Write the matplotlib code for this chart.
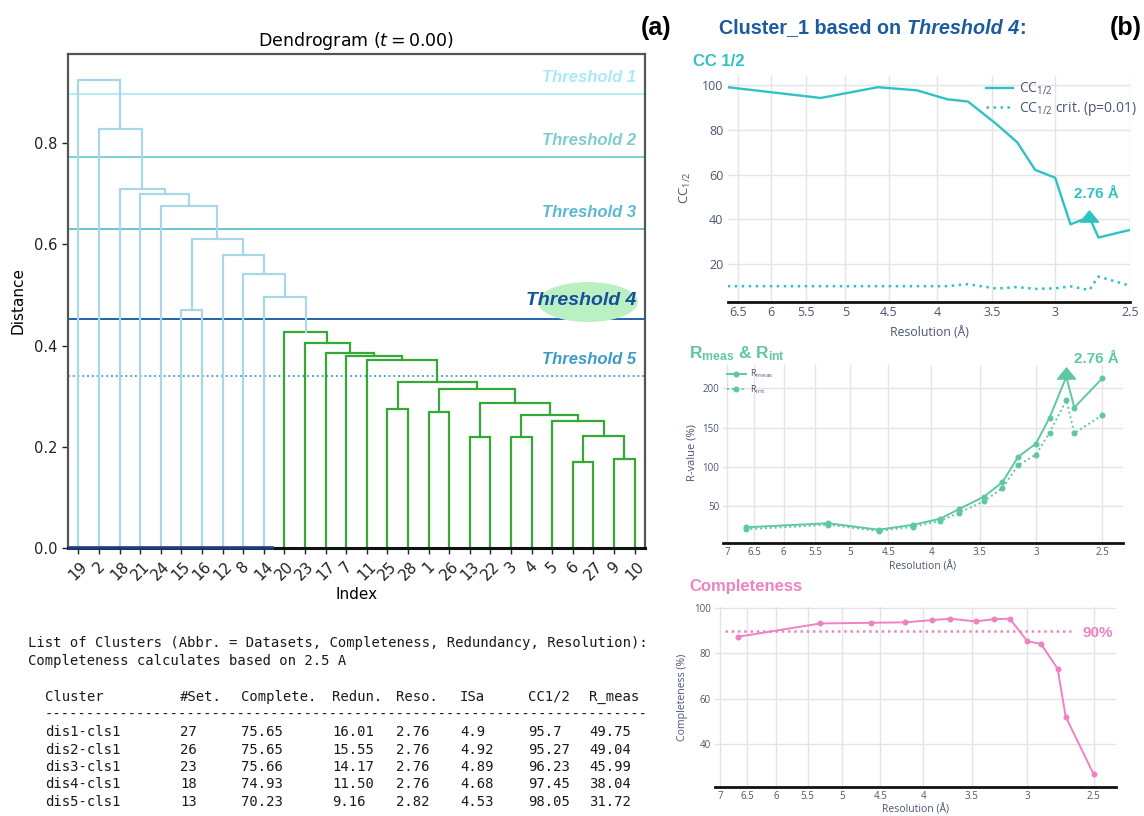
import matplotlib
matplotlib.use('Agg')
import matplotlib.pyplot as plt
from matplotlib.patches import Ellipse
from matplotlib.path import Path
from matplotlib.ticker import NullLocator

plt.rcParams['mathtext.default'] = 'regular'
plt.rcParams['font.family'] = ['DejaVu Sans']

# ---------------- data: dendrogram ----------------
leaf_labels = [19, 2, 18, 21, 24, 15, 16, 12, 8, 14, 20, 23, 17, 7, 11,
               25, 28, 1, 26, 13, 22, 3, 4, 5, 6, 27, 9, 10]
# nodes 0..27 are leaves (display order); node 28+k is merge k
merge_a = [24, 26, 19, 21, 28, 23, 31, 17, 15, 30, 35, 36, 14, 13, 12, 11, 10,
           5, 9, 8, 7, 45, 4, 3, 2, 1, 0]
merge_b = [25, 27, 20, 22, 29, 32, 33, 18, 16, 34, 37, 38, 39, 40, 41, 42, 43,
           6, 44, 46, 47, 48, 49, 50, 51, 52, 53]
merge_height = [0.169, 0.175, 0.219, 0.219, 0.221, 0.251, 0.263, 0.268, 0.274,
                0.287, 0.314, 0.327, 0.372, 0.379, 0.385, 0.406, 0.427,
                0.470, 0.495, 0.541, 0.579, 0.611, 0.675, 0.699, 0.709,
                0.828, 0.925]
threshold_names = ['Threshold 1', 'Threshold 2', 'Threshold 3', 'Threshold 4', 'Threshold 5']
threshold_values = [0.896, 0.773, 0.630, 0.453, 0.339]

# ---------------- data: cluster table ----------------
table_header = ['Cluster', '#Set.', 'Complete.', 'Redun.', 'Reso.', 'ISa', 'CC1/2', 'R_meas']
cluster_names = ['dis1-cls1', 'dis2-cls1', 'dis3-cls1', 'dis4-cls1', 'dis5-cls1']
n_sets = ['27', '26', '23', '18', '13']
tab_completeness = ['75.65', '75.65', '75.66', '74.93', '70.23']
tab_redundancy = ['16.01', '15.55', '14.17', '11.50', '9.16']
tab_resolution = ['2.76', '2.76', '2.76', '2.76', '2.82']
tab_isa = ['4.9', '4.92', '4.89', '4.68', '4.53']
tab_cc_half = ['95.7', '95.27', '96.23', '97.45', '98.05']
tab_r_meas = ['49.75', '49.04', '45.99', '38.04', '31.72']

# ---------------- data: resolution shells ----------------
resolution = [6.66, 5.31, 4.62, 4.20, 3.90, 3.71, 3.46, 3.29, 3.15, 3.00, 2.89, 2.76, 2.70, 2.50]
cc_half = [99.0, 94.2, 99.0, 97.6, 93.6, 92.6, 82.5, 74.4, 62.1, 58.6, 37.8, 41.1, 31.9, 35.3]
cc_crit = [10.2, 10.2, 10.2, 10.2, 10.2, 11.1, 9.1, 9.8, 9.0, 9.2, 10.1, 8.5, 14.5, 10.4]
r_meas = [22.3, 27.5, 19.2, 25.6, 33.3, 45.4, 61.5, 80.0, 112.4, 129.5, 162.4, 215.0, 175.6, 213.0]
r_int = [19.7, 25.6, 17.6, 23.0, 30.4, 40.6, 55.6, 72.3, 101.8, 115.4, 143.6, 184.7, 142.8, 165.8]
completeness = [87.4, 93.3, 93.6, 93.8, 94.8, 95.4, 94.2, 95.2, 95.4, 85.4, 84.2, 73.2, 52.0, 26.5]
cutoff_res = 2.76
cc_marker_value = 41.5
r_marker_value = 220.0
target_completeness = 90
target_line_res = [6.9, 2.66]

# ---------------- figure ----------------
W, H = 1144, 816
fig = plt.figure(figsize=(W / 100, H / 100), dpi=100)


def rect(l, t, r, b):
    return [l / W, 1 - b / H, (r - l) / W, (b - t) / H]


def ftext(x, y, s, **kw):
    return fig.text(x / W, 1 - y / H, s, **kw)


BLUE = '#a9d7e6'
GREEN = '#35a935'
line_colors = ['#b4eef6', '#7dcfcf', '#68c5ca', '#2262ae', '#3b9cc6']
text_colors = ['#a9e9f6', '#7fcdcd', '#5cb9d2', '#15509b', '#3a9cc6']
line_styles = ['-', '-', '-', '-', ':']

# ---------------- dendrogram ----------------
ax = fig.add_axes(rect(68, 54, 645, 548))
n = len(leaf_labels)
node_x = [5 + 10 * i for i in range(n)]
node_h = [0.0] * n
for a, b, h in zip(merge_a, merge_b, merge_height):
    col = GREEN if h < threshold_values[3] else BLUE
    xa, xb = node_x[a], node_x[b]
    ax.plot([xa, xa, xb, xb], [node_h[a], h, h, node_h[b]], color=col, lw=1.6,
            solid_joinstyle='miter', zorder=2)
    node_x.append((xa + xb) / 2)
    node_h.append(h)

ax.set_xlim(0, 10 * n)
ax.set_ylim(0, 0.976)
for i, (name, v) in enumerate(zip(threshold_names, threshold_values)):
    ax.axhline(v, color=line_colors[i], lw=1.4 if i != 4 else 1.3,
               ls=line_styles[i], zorder=1)
    big = (i == 3)
    ax.annotate(name, xy=(275.8, v), xytext=(0, 13 if big else 12),
                textcoords='offset points', ha='right', va='center',
                color=text_colors[i], fontsize=14 if big else 12,
                fontweight='bold', fontstyle='italic',
                family='Liberation Sans', zorder=4)
ax.add_patch(Ellipse((252.3, 0.486), 48.5, 0.079, color='#baf0c2', zorder=3, lw=0))
ax.plot([0, (node_x[9] + node_x[10]) / 2], [0, 0], color='#1d3c78', lw=2.6,
        zorder=5, clip_on=False, solid_capstyle='butt')

ax.set_xticks([5 + 10 * i for i in range(n)])
ax.set_xticklabels([str(l) for l in leaf_labels], rotation=45, fontsize=11)
ax.set_yticks([0.0, 0.2, 0.4, 0.6, 0.8])
ax.set_yticklabels(['0.0', '0.2', '0.4', '0.6', '0.8'], fontsize=10.5)
ax.tick_params(length=4, width=1, colors='#222222')
ax.set_title('Dendrogram ($\\mathit{t} = 0.00$)', fontsize=12.5, pad=6)
ax.set_xlabel('Index', fontsize=11, labelpad=3)
ax.set_ylabel('Distance', fontsize=11, labelpad=6)
for s in ['top', 'left', 'right']:
    ax.spines[s].set_color('#555555')
    ax.spines[s].set_linewidth(1.6)
ax.spines['bottom'].set_color('#111111')
ax.spines['bottom'].set_linewidth(2.2)

ftext(656, 28, '(a)', fontsize=18, fontweight='bold', family='Liberation Sans',
      ha='center', va='center')
ftext(1126, 28, '(b)', fontsize=18, fontweight='bold', family='Liberation Sans',
      ha='center', va='center')

# ---------------- table ----------------
mono = dict(family='DejaVu Sans Mono', fontsize=10, va='center', color='#1a1a1a')
ftext(28, 643, 'List of Clusters (Abbr. = Datasets, Completeness, Redundancy, Resolution):', **mono)
ftext(28, 661, 'Completeness calculates based on 2.5 A', **mono)
col_x = [45, 180, 241, 332, 396, 460, 528, 589]
for x, h in zip(col_x, table_header):
    ftext(x, 697, h, **mono)
ftext(45, 715, '-' * 72, **mono)
columns = [cluster_names, n_sets, tab_completeness, tab_redundancy,
           tab_resolution, tab_isa, tab_cc_half, tab_r_meas]
for r in range(len(cluster_names)):
    y = 732 + 17.5 * r
    for x, col in zip(col_x, columns):
        ftext(x, y, col[r], **mono)

# ---------------- right panel helpers ----------------
TICKC = '#4a5670'
tri = Path([(0, 0.62), (-1, -0.62), (1, -0.62), (0, 0.62)],
           [Path.MOVETO, Path.LINETO, Path.LINETO, Path.CLOSEPOLY])


def plotly_axes(r, xlim, ylim, xticks, yticks, fs, pad):
    a = fig.add_axes(r)
    a.set_xscale('log')
    a.set_xlim(*xlim)
    a.set_ylim(*ylim)
    a.set_xticks(xticks)
    a.set_xticklabels([f'{t:g}' for t in xticks])
    a.xaxis.set_minor_locator(NullLocator())
    a.set_yticks(yticks)
    a.set_yticklabels([f'{t:g}' for t in yticks])
    a.grid(True, color='#e4e4e4', lw=1)
    a.set_axisbelow(True)
    for s in ['top', 'right', 'left']:
        a.spines[s].set_visible(False)
    a.spines['bottom'].set_color('#111111')
    a.spines['bottom'].set_linewidth(2)
    a.tick_params(length=0, labelsize=fs, colors=TICKC, pad=pad)
    for lab in a.get_xticklabels() + a.get_yticklabels():
        lab.set_family('Open Sans')
    return a


title_font = dict(family='Liberation Sans', fontweight='bold')

# title of (b)
r_ = fig.canvas.get_renderer()
tA = ftext(719, 28, 'Cluster_1 based on ', color='#1c5b9f', fontsize=14.2, va='center', **title_font)
bb = tA.get_window_extent(renderer=r_)
tB = fig.text(bb.x1 / W, 1 - 28 / H, 'Threshold 4', color='#1c5b9f', fontsize=14.2,
              va='center', fontstyle='italic', **title_font)
bb = tB.get_window_extent(renderer=r_)
fig.text(bb.x1 / W, 1 - 28 / H, ':', color='#1c5b9f', fontsize=14.2, va='center', **title_font)

# ---------------- CC1/2 ----------------
CC = '#2fc2c2'
a1 = plotly_axes(rect(727.7, 76, 1130, 302.3), (6.66, 2.5), (3.0, 104),
                 [6.5, 6, 5.5, 5, 4.5, 4, 3.5, 3, 2.5], [20, 40, 60, 80, 100], 9, 3)
a1.plot(resolution, cc_half, color=CC, lw=1.7, label='CC$_{1/2}$')
a1.plot(resolution, cc_crit, color=CC, lw=1.8, ls=(0, (1, 1.8)),
        label='CC$_{1/2}$ crit. (p=0.01)')
a1.plot([cutoff_res], [cc_marker_value], marker=tri, ms=13, color=CC, ls='none')
leg = a1.legend(loc='upper left', bbox_to_anchor=(0.642, 0.98), frameon=False,
                borderpad=0, borderaxespad=0, handlelength=1.95, handletextpad=0.45,
                labelspacing=0.2, prop={'family': 'Open Sans', 'size': 10})
for t in leg.get_texts():
    t.set_color(TICKC)
ftext(693, 61, 'CC 1/2', color=CC, fontsize=12, va='center', ha='left', **title_font)
ftext(685, 188, 'CC$_{1/2}$', rotation=90, fontsize=9.5, color=TICKC, family='Open Sans',
      ha='center', va='center')
ftext(929, 333, 'Resolution (Å)', fontsize=8.8, color=TICKC, family='Open Sans',
      ha='center', va='center')
ftext(1096, 194, '2.76 Å', color=CC, fontsize=11, ha='center', va='center', **title_font)

# ---------------- Rmeas & Rint ----------------
RC = '#5ec8a0'
a2 = plotly_axes(rect(723.3, 365, 1123.3, 542.7), (7.08, 2.36), (2.6, 230),
                 [7, 6.5, 6, 5.5, 5, 4.5, 4, 3.5, 3, 2.5], [50, 100, 150, 200], 7, 3)
a2.plot(resolution, r_meas, color=RC, lw=1.4, marker='o', ms=3.3, label='R$_{meas}$')
a2.plot(resolution, r_int, color=RC, lw=1.4, ls=(0, (1, 1.5)), marker='o', ms=3.3,
        label='R$_{int}$')
a2.plot([cutoff_res], [r_marker_value], marker=tri, ms=13, color=RC, ls='none')
leg2 = a2.legend(loc='upper left', bbox_to_anchor=(0.0085, 0.985), frameon=False,
                 borderpad=0, borderaxespad=0, handlelength=2.1, handletextpad=0.45,
                 labelspacing=0.35, prop={'family': 'Open Sans', 'size': 6.5})
for t in leg2.get_texts():
    t.set_color(TICKC)
ftext(689, 354, 'R$_{meas}$ & R$_{int}$', color=RC, fontsize=12.5, va='center', ha='left',
      **title_font)
ftext(691.7, 453, 'R-value (%)', rotation=90, fontsize=8, color=TICKC, family='Open Sans',
      ha='center', va='center')
ftext(923, 567, 'Resolution (Å)', fontsize=7.5, color=TICKC, family='Open Sans',
      ha='center', va='center')
ftext(1096, 359, '2.76 Å', color=RC, fontsize=11, ha='center', va='center', **title_font)

# ---------------- Completeness ----------------
PC = '#ee82c4'
a3 = plotly_axes(rect(715, 607, 1116, 786.7), (7.1, 2.35), (20.9, 100.6),
                 [7, 6.5, 6, 5.5, 5, 4.5, 4, 3.5, 3, 2.5], [40, 60, 80, 100], 7, 3)
a3.plot(resolution, completeness, color=PC, lw=1.4, marker='o', ms=3.3)
a3.plot(target_line_res, [target_completeness] * 2, color=PC, lw=1.8, ls=(0, (1, 1.5)))
ftext(689, 587, 'Completeness', color=PC, fontsize=12, va='center', ha='left', **title_font)
ftext(683, 697, 'Completeness (%)', rotation=90, fontsize=7.6, color=TICKC, family='Open Sans',
      ha='center', va='center')
ftext(916, 810, 'Resolution (Å)', fontsize=7.5, color=TICKC, family='Open Sans',
      ha='center', va='center')
ftext(1098, 633, '90%', color=PC, fontsize=11, ha='center', va='center', **title_font)

fig.savefig('out.png', dpi=100)
